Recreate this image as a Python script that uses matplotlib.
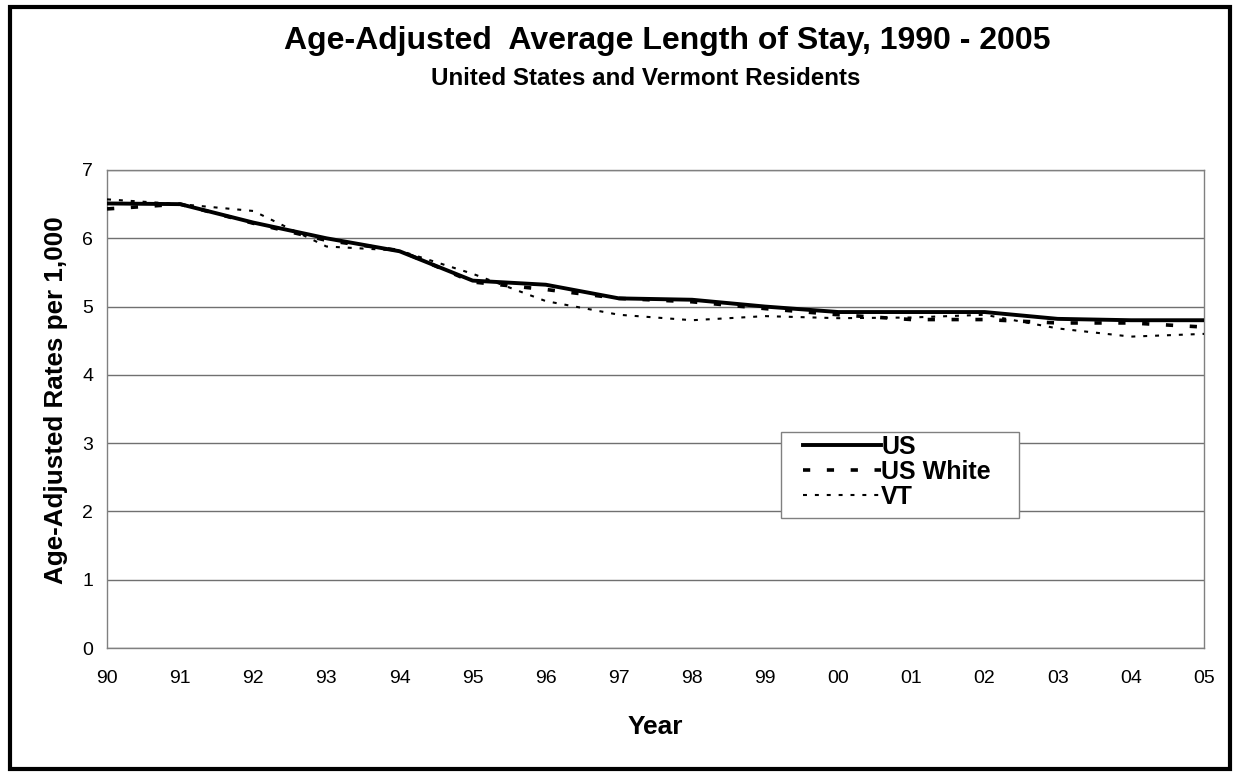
import numpy as np
import matplotlib
matplotlib.use("Agg")
import matplotlib.pyplot as plt
from matplotlib.patches import Rectangle

plt.rcParams["font.family"] = ["Liberation Sans", "DejaVu Sans"]

# =========================
# データ
# =========================
years = ["90", "91", "92", "93", "94", "95", "96", "97",
         "98", "99", "00", "01", "02", "03", "04", "05"]
us = [6.51, 6.50, 6.23, 6.00, 5.81, 5.38, 5.32, 5.12,
      5.10, 5.00, 4.92, 4.92, 4.92, 4.82, 4.80, 4.80]
us_white = [6.43, 6.50, 6.22, 5.97, 5.82, 5.36, 5.25, 5.12,
            5.07, 4.97, 4.88, 4.81, 4.81, 4.76, 4.76, 4.70]
vt = [6.57, 6.50, 6.40, 5.88, 5.82, 5.48, 5.08, 4.88,
      4.80, 4.86, 4.83, 4.84, 4.88, 4.68, 4.56, 4.60]

x = np.arange(len(years))

# =========================
# 描画
# =========================
fig = plt.figure(figsize=(12.36, 7.72), dpi=100)
ax = fig.add_axes([0.0866, 0.1606, 0.8875, 0.6192])

ax.plot(x, us, color="black", lw=2.8, label="US",
        solid_joinstyle="round", zorder=4)
ax.plot(x, us_white, color="black", lw=2.6, dashes=(2.0, 4.6),
        label="US White", zorder=3)
ax.plot(x, vt, color="black", lw=1.5, dashes=(1.9, 3.8),
        label="VT", zorder=3)

ax.set_xlim(0, len(years) - 1)
ax.set_ylim(0, 7)
ax.set_xticks(x)
ax.set_xticklabels(years)
ax.set_yticks(range(0, 8))
ax.tick_params(length=0, labelsize=14)
ax.tick_params(axis="x", pad=16)
ax.tick_params(axis="y", pad=10)
ax.grid(axis="y", color="#707070", lw=1)
ax.set_axisbelow(True)
for s in ax.spines.values():
    s.set_color("#808080")
    s.set_linewidth(1)

ax.set_xlabel("Year", fontsize=19, fontweight="bold", labelpad=20)
ax.set_ylabel("Age-Adjusted Rates per 1,000", fontsize=18.7,
              fontweight="bold")
ax.yaxis.set_label_coords(-0.0356, 0.519)

# 凡例の枠
ax.add_patch(Rectangle((0.6144, 0.272), 0.217, 0.18,
                       transform=ax.transAxes, facecolor="white",
                       edgecolor="#808080", lw=1, zorder=5))
leg = ax.legend(loc="upper left", bbox_to_anchor=(0.6345, 0.4456),
                borderaxespad=0, borderpad=0, frameon=False,
                handlelength=3.12, handletextpad=0, labelspacing=0.03,
                prop={"size": 18, "weight": "bold"})
leg.set_zorder(6)

fig.text(0.540, 0.947, "Age-Adjusted  Average Length of Stay, 1990 - 2005",
         ha="center", va="center", fontsize=23, fontweight="bold")
fig.text(0.522, 0.898, "United States and Vermont Residents",
         ha="center", va="center", fontsize=17.4, fontweight="bold")

# 外枠
fig.patches.append(Rectangle((0.0077, 0.004), 0.9874, 0.987,
                             transform=fig.transFigure, fill=False,
                             edgecolor="black", lw=3))

fig.savefig("out.png", dpi=100)
